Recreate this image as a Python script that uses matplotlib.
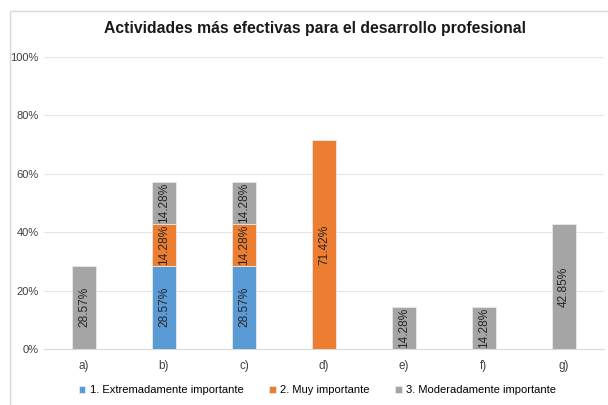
import matplotlib.pyplot as plt
import numpy as np
from matplotlib.patches import Rectangle

categories = ['a)', 'b)', 'c)', 'd)', 'e)', 'f)', 'g)']
extrem = [0, 28.57, 28.57, 0, 0, 0, 0]
muy = [0, 14.28, 14.28, 71.42, 0, 0, 0]
moder = [28.57, 14.28, 14.28, 0, 14.28, 14.28, 42.85]
series_names = ['1. Extremadamente importante', '2. Muy importante',
                '3. Moderadamente importante']
colors = ['#5B9BD5', '#ED7D31', '#A5A5A5']

plt.rcParams['font.family'] = ['Liberation Sans', 'DejaVu Sans']

fig = plt.figure(figsize=(6.08, 4.05), dpi=100)
# chart frame like Excel
fig.patches.append(Rectangle((10 / 608, -0.1), 1.0, 1 - 11 / 405 + 0.1,
                             transform=fig.transFigure, fill=False,
                             edgecolor='#D9D9D9', linewidth=1))
ax = fig.add_axes([44 / 608, 1 - 349 / 405, 560 / 608, 292 / 405])

x = np.arange(len(categories))
bottom = np.zeros(len(categories))
for vals, name, col in zip([extrem, muy, moder], series_names, colors):
    vals = np.array(vals)
    bars = ax.bar(x, vals, width=0.31, bottom=bottom, color=col, label=name,
                  edgecolor='#E8E8E8', linewidth=0.6, zorder=3)
    for rect, v in zip(bars, vals):
        if v > 0:
            ax.text(rect.get_x() + rect.get_width() / 2,
                    rect.get_y() + rect.get_height() / 2,
                    '%.2f%%' % v, rotation=90, ha='center', va='center',
                    fontsize=8.6, color='#262626', zorder=4)
    bottom += vals

ax.set_xlim(-0.5, len(categories) - 0.5)
ax.set_ylim(0, 100)
ax.set_yticks(range(0, 101, 20))
ax.set_yticklabels(['%d%%' % t for t in range(0, 101, 20)])
ax.set_xticks(x)
ax.set_xticklabels(categories)
ax.tick_params(axis='both', length=0, labelsize=8, colors='#404040')
ax.tick_params(axis='x', labelsize=8.5, pad=8)
ax.tick_params(axis='y', pad=4)
ax.grid(axis='y', color='#E6E6E6', linewidth=0.8, zorder=0)
for side in ['top', 'right', 'left']:
    ax.spines[side].set_visible(False)
ax.spines['bottom'].set_color('#D9D9D9')

fig.text(0.518, 1 - 28 / 405, 'Actividades más efectivas para el desarrollo profesional',
         ha='center', va='center', fontsize=11.3, fontweight='bold', color='#1a1a1a')

fig.legend(loc='center', bbox_to_anchor=(0.522, 1 - 390 / 405), ncol=3,
           frameon=False, fontsize=8, handlelength=0.6, handleheight=0.6,
           handletextpad=0.4, columnspacing=2.3)

fig.savefig('out.png', dpi=100)
